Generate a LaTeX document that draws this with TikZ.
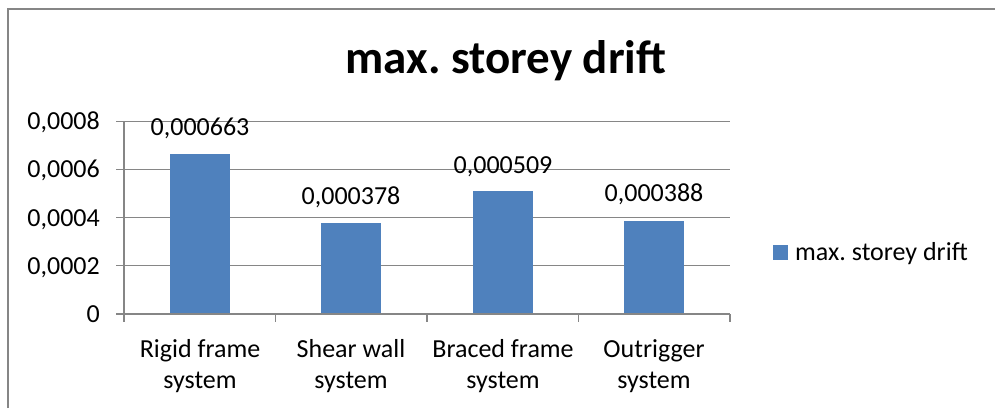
\documentclass[tikz,border=0pt]{standalone}
\usepackage{fontspec}
\setmainfont{Carlito}
\frenchspacing
\definecolor{barblue}{HTML}{4F81BD}
\definecolor{gridgray}{HTML}{868686}
\tikzset{
  bar/.style={fill=barblue, draw=none},
  gridline/.style={draw=gridgray, line width=1.2pt},
  lbl/.style={font=\fontsize{26}{31}\selectfont, inner sep=0pt},
}
\begin{document}
\begin{tikzpicture}[x=1pt, y=-1pt]
\useasboundingbox (0,0) rectangle (995,408);
\fill[white] (0,0) rectangle (995,408);
% chart frame
\draw[gridline, line width=1.6pt] (8,408) -- (8,9) -- (995,9);
% title
\node[lbl, font=\fontsize{47}{50}\selectfont\bfseries, anchor=base] (title) at (506,73) {max. storey drift};
% gridlines
\draw[gridline] (116,121.2) -- (730,121.2);
\draw[gridline] (116,169.4) -- (730,169.4);
\draw[gridline] (116,217.6) -- (730,217.6);
\draw[gridline] (116,265.8) -- (730,265.8);
% bars
\fill[bar] (170,154.2) rectangle (230,314);
\fill[bar] (321,222.9) rectangle (381,314);
\fill[bar] (473,191.3) rectangle (533,314);
\fill[bar] (624,220.5) rectangle (684,314);
% axes
\draw[gridline] (116,314) -- (730,314);
\draw[gridline] (124,121.2) -- (124,322);
\draw[gridline] (275.5,314) -- (275.5,322);
\draw[gridline] (427,314) -- (427,322);
\draw[gridline] (578.5,314) -- (578.5,322);
\draw[gridline] (730,314) -- (730,322);
% y labels
\node[lbl, anchor=base east] (y0) at (100,322.5) {0};
\node[lbl, anchor=base east] (y2) at (100,274.3) {0,0002};
\node[lbl, anchor=base east] (y4) at (100,226.1) {0,0004};
\node[lbl, anchor=base east] (y6) at (100,177.9) {0,0006};
\node[lbl, anchor=base east] (y8) at (100,129.7) {0,0008};
% data labels
\node[lbl, anchor=base] (val1) at (200,135.5) {0,000663};
\node[lbl, anchor=base] (val2) at (351,204.3) {0,000378};
\node[lbl, anchor=base] (val3) at (503,173.3) {0,000509};
\node[lbl, anchor=base] (val4) at (654,201.8) {0,000388};
% categories (base = last line)
\node[lbl, align=center, anchor=base] (cat1) at (200,388) {Rigid frame\\system};
\node[lbl, align=center, anchor=base] (cat2) at (351,388) {Shear wall\\system};
\node[lbl, align=center, anchor=base] (cat3) at (503,388) {Braced frame\\system};
\node[lbl, align=center, anchor=base] (cat4) at (654,388) {Outrigger\\system};
% legend
\fill[bar] (773,245) rectangle (788,260);
\node[lbl, anchor=base west] (legend) at (795,260) {max. storey drift};
\end{tikzpicture}
\end{document}
